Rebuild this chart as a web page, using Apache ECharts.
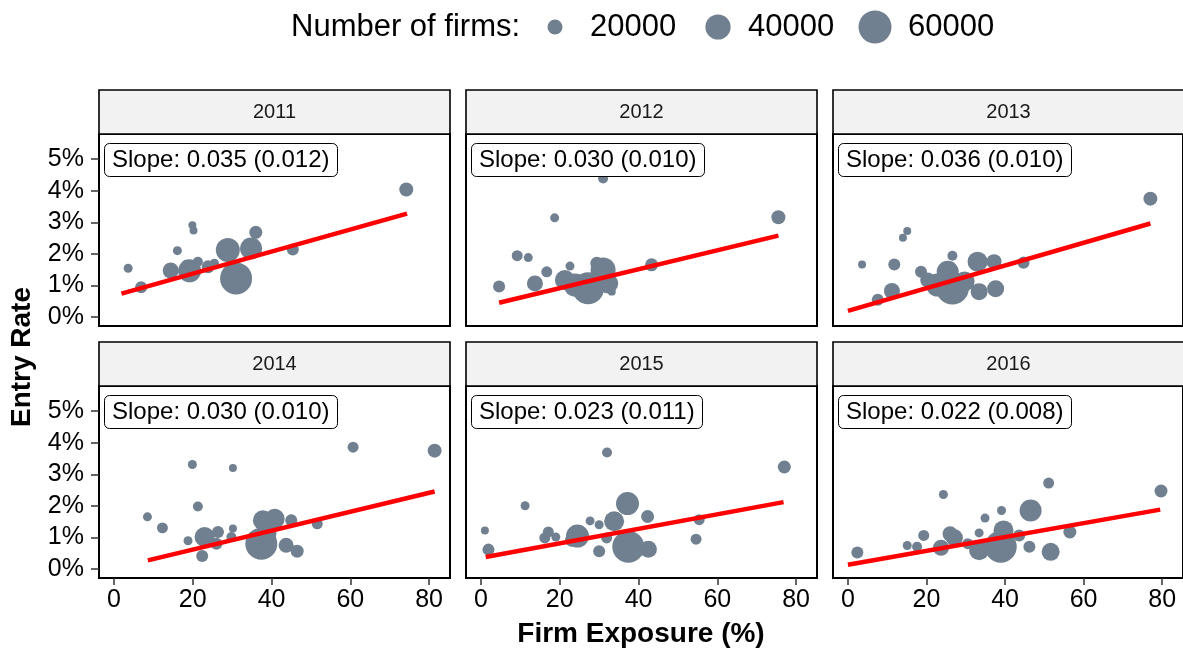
<!DOCTYPE html>
<html>
<head>
<meta charset="utf-8">
<title>Entry Rate vs Firm Exposure</title>
<script src="https://cdn.jsdelivr.net/npm/echarts@6/dist/echarts.min.js"></script>
<style>
  html, body { margin: 0; padding: 0; background: #fff; }
  #chart { width: 1183px; height: 650px; }
</style>
</head>
<body>
<div id="chart"></div>
<script>
// Panel years
const years = ['2011', '2012', '2013', '2014', '2015', '2016'];

// Firm exposure (%), entry rate (%), number of firms per industry, by year
const exposure2011 = [74.2, 24.4, 19.9, 20.2, 36.0, 16.1, 3.6, 6.9, 14.4, 19.2, 21.3, 18.4, 23.9, 28.9, 34.8, 31.0, 45.4, 25.5];
const entry2011    = [4.04, 4.62, 2.91, 2.74, 2.68, 2.10, 1.54, 0.94, 1.47, 1.46, 1.75, 1.65, 1.59, 2.12, 2.17, 1.22, 2.14, 1.70];
const firms2011    = [20000, 12700, 11400, 11400, 18400, 12700, 12700, 16900, 23400, 37300, 14000, 14000, 18400, 39500, 35100, 60000, 16900, 12700];

const exposure2012 = [31.0, 18.7, 75.5, 9.2, 12.0, 4.6, 13.7, 16.7, 22.6, 21.3, 27.2, 23.9, 31.0, 32.3, 33.2, 43.3, 29.4];
const entry2012    = [4.39, 3.14, 3.16, 1.94, 1.88, 0.96, 1.06, 1.43, 1.61, 1.17, 0.91, 1.01, 1.49, 1.06, 0.80, 1.65, 1.70];
const firms2012    = [14000, 12700, 20000, 15400, 12700, 16900, 23400, 15400, 12700, 30900, 60000, 37300, 41900, 30900, 11400, 18400, 18400];

const exposure2013 = [77.0, 15.1, 14.0, 3.6, 11.8, 7.6, 11.2, 18.6, 20.3, 22.8, 26.6, 25.4, 26.6, 33.0, 37.2, 33.4, 37.6, 44.7, 29.7];
const entry2013    = [3.75, 2.72, 2.51, 1.66, 1.66, 0.54, 0.82, 1.43, 1.17, 1.01, 0.91, 1.43, 1.94, 1.75, 1.75, 0.80, 0.89, 1.72, 1.12];
const firms2013    = [20000, 11400, 11400, 11400, 16900, 16900, 23400, 16900, 21700, 37300, 62100, 35100, 14000, 30900, 21700, 25200, 25200, 16900, 30900];

const exposure2014 = [60.7, 81.4, 19.9, 30.2, 21.3, 8.5, 12.3, 18.8, 22.4, 23.0, 26.4, 26.0, 30.2, 29.8, 37.8, 40.8, 37.4, 45.0, 43.7, 46.5, 51.6, 39.1];
const entry2014    = [3.86, 3.75, 3.31, 3.20, 1.98, 1.65, 1.30, 0.89, 0.41, 1.01, 1.17, 0.80, 1.28, 1.01, 1.54, 1.59, 0.80, 1.54, 0.75, 0.56, 1.43, 1.12];
const firms2014    = [15400, 20000, 12700, 11400, 14000, 12700, 15400, 12700, 16900, 30900, 16900, 16900, 11400, 14000, 30900, 30900, 60000, 16900, 21700, 18400, 15400, 25200];

const exposure2015 = [32.0, 77.0, 11.2, 1.0, 1.9, 17.1, 16.2, 19.0, 24.5, 23.0, 27.7, 30.0, 33.8, 31.9, 30.0, 37.2, 37.4, 42.3, 42.5, 55.4, 54.6];
const entry2015    = [3.69, 3.23, 2.00, 1.22, 0.61, 1.17, 0.98, 1.01, 1.04, 0.91, 1.52, 1.40, 1.51, 0.98, 0.56, 2.07, 0.70, 1.66, 0.62, 1.56, 0.94];
const firms2015    = [14000, 18400, 12700, 11400, 16900, 15400, 15400, 12700, 37300, 18400, 12700, 12700, 30900, 15400, 16900, 37300, 60000, 18400, 25200, 15400, 15400];

const exposure2016 = [79.7, 51.1, 24.3, 2.4, 15.1, 17.6, 19.3, 23.7, 26.0, 27.1, 30.5, 33.4, 33.4, 34.9, 39.1, 39.6, 38.9, 43.6, 46.5, 46.2, 51.6, 56.5];
const entry2016    = [2.47, 2.72, 2.36, 0.52, 0.74, 0.70, 1.06, 0.67, 1.11, 0.99, 0.80, 0.59, 1.14, 1.61, 1.85, 1.22, 0.70, 1.06, 1.85, 0.70, 0.54, 1.17];
const firms2016    = [18400, 15400, 12700, 16900, 12700, 14000, 15400, 23400, 21700, 25200, 15400, 30900, 12700, 12700, 12700, 30900, 60000, 16900, 35100, 16900, 27000, 18400];

// Linear fit per year: slope, its standard error, intercept and the fitted exposure span
const fitSlope     = [0.035, 0.030, 0.036, 0.030, 0.023, 0.022];
const fitSE        = [0.012, 0.010, 0.010, 0.010, 0.011, 0.008];
const fitIntercept = [0.67, 0.31, 0.19, 0.01, 0.35, 0.13];
const fitFrom      = [1.9, 4.6, 0.0, 8.6, 1.2, 0.0];
const fitTo        = [74.4, 75.5, 77.0, 81.4, 76.8, 79.5];

// Axis ticks and legend breaks
const xTicks = [0, 20, 40, 60, 80];
const yTicks = [0, 1, 2, 3, 4, 5];
const sizeBreaks = [20000, 40000, 60000];

const exposures = [exposure2011, exposure2012, exposure2013, exposure2014, exposure2015, exposure2016];
const entries   = [entry2011, entry2012, entry2013, entry2014, entry2015, entry2016];
const firmsAll  = [firms2011, firms2012, firms2013, firms2014, firms2015, firms2016];

// ---- layout ----
const FONT = 'Liberation Sans, Arial, Helvetica, sans-serif';
const POINT = '#708090';
const colLeft = [99, 466, 833];
const plotTop = [134, 386];
const panelW = 351, panelH = 192;
const stripH = 44;
const X_MIN = -3.8, X_MAX = 85.3;
const Y_MIN = -0.29, Y_MAX = 5.80;

// bubble diameter (px) from number of firms
function sizeOf(n) {
  return Math.max(4, -10.6 + 24.6 * Math.sqrt(n / 20000));
}

const grids = [], xAxes = [], yAxes = [], series = [], titles = [], graphics = [];

years.forEach((yr, i) => {
  const col = i % 3, row = Math.floor(i / 3);
  const left = colLeft[col], top = plotTop[row];
  grids.push({
    left: left, top: top, width: panelW, height: panelH,
    show: true, borderColor: '#000', borderWidth: 2, backgroundColor: '#fff',
    containLabel: false
  });
  const bottomRow = row === 1, leftCol = col === 0;
  xAxes.push({
    gridIndex: i, type: 'value', min: X_MIN, max: X_MAX, position: 'bottom',
    axisLine: { show: false, onZero: false },
    splitLine: { show: false },
    axisTick: { show: bottomRow, inside: false, customValues: xTicks, length: 7, lineStyle: { color: '#333', width: 1.5 } },
    axisLabel: { show: bottomRow, customValues: xTicks, margin: 10, fontSize: 25, color: '#000', fontFamily: FONT }
  });
  yAxes.push({
    gridIndex: i, type: 'value', min: Y_MIN, max: Y_MAX, position: 'left',
    axisLine: { show: false, onZero: false },
    splitLine: { show: false },
    axisTick: { show: leftCol, inside: false, customValues: yTicks, length: 8, lineStyle: { color: '#333', width: 1.5 } },
    axisLabel: { show: leftCol, customValues: yTicks, margin: 15, fontSize: 25, color: '#000', fontFamily: FONT,
                 formatter: v => v + '%' }
  });

  const xs = exposures[i], ys = entries[i], ns = firmsAll[i];
  series.push({
    type: 'scatter', xAxisIndex: i, yAxisIndex: i,
    data: xs.map((x, k) => [x, ys[k], ns[k]]),
    symbolSize: v => sizeOf(v[2]),
    itemStyle: { color: POINT, opacity: 1 },
    silent: true, z: 2
  });
  const a = fitIntercept[i], b = fitSlope[i];
  series.push({
    type: 'line', xAxisIndex: i, yAxisIndex: i,
    data: [[fitFrom[i], a + b * fitFrom[i]], [fitTo[i], a + b * fitTo[i]]],
    symbol: 'none',
    lineStyle: { color: '#ff0000', width: 4.5, cap: 'butt' },
    silent: true, z: 3
  });

  titles.push({
    text: 'Slope: ' + fitSlope[i].toFixed(3) + ' (' + fitSE[i].toFixed(3) + ')',
    left: left + 5, top: top + 9,
    padding: [3, 8, 3, 8],
    backgroundColor: '#fff', borderColor: '#000', borderWidth: 1, borderRadius: 5,
    textStyle: { fontSize: 24, fontWeight: 'normal', color: '#000', fontFamily: FONT, lineHeight: 28 },
    z: 10
  });

  // facet strip
  graphics.push({
    type: 'rect', shape: { x: left, y: top - stripH, width: panelW, height: stripH },
    style: { fill: '#f2f2f2', stroke: '#000', lineWidth: 1.6 }, z: 5
  });
  graphics.push({
    type: 'text', x: left + panelW / 2, y: top - stripH / 2,
    style: { text: yr, fill: '#1a1a1a', font: '20px ' + FONT, textAlign: 'center', textVerticalAlign: 'middle' }, z: 6
  });
});

// axis titles
graphics.push({
  type: 'text', x: 641, y: 634,
  style: { text: 'Firm Exposure (%)', fill: '#000', font: 'bold 28px ' + FONT, textAlign: 'center', textVerticalAlign: 'middle' }
});
graphics.push({
  type: 'text', x: 22, y: 357, rotation: Math.PI / 2,
  style: { text: 'Entry Rate', fill: '#000', font: 'bold 28px ' + FONT, textAlign: 'center', textVerticalAlign: 'middle' }
});

// size legend
graphics.push({
  type: 'text', x: 291, y: 27,
  style: { text: 'Number of firms:', fill: '#000', font: '31px ' + FONT, textAlign: 'left', textVerticalAlign: 'middle' }
});
const legendCx = [555, 718, 875], legendTx = [590, 748, 908];
sizeBreaks.forEach((n, k) => {
  graphics.push({
    type: 'circle', shape: { cx: legendCx[k], cy: 27, r: sizeOf(n) / 2 + 0.5 },
    style: { fill: POINT }
  });
  graphics.push({
    type: 'text', x: legendTx[k], y: 27,
    style: { text: String(n), fill: '#000', font: '31px ' + FONT, textAlign: 'left', textVerticalAlign: 'middle' }
  });
});

const chart = echarts.init(document.getElementById('chart'), null, { renderer: 'canvas' });
chart.setOption({
  backgroundColor: '#fff',
  animation: false,
  title: titles,
  grid: grids,
  xAxis: xAxes,
  yAxis: yAxes,
  series: series,
  graphic: graphics
});
</script>
</body>
</html>
